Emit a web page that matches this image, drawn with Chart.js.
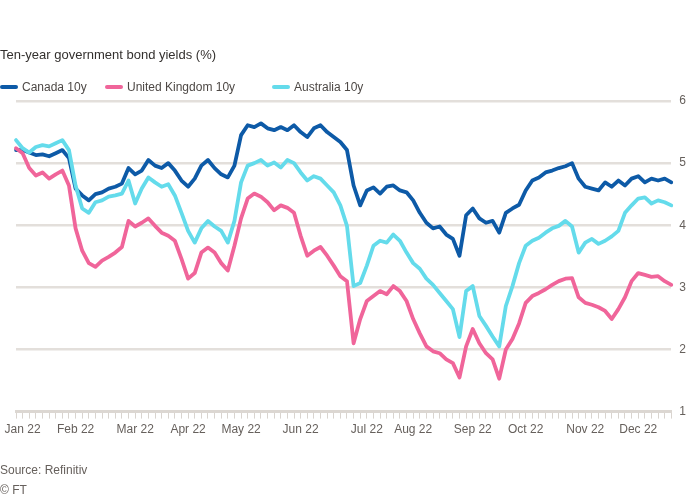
<!DOCTYPE html>
<html>
<head>
<meta charset="utf-8">
<script src="https://cdn.jsdelivr.net/npm/chart.js@4.4.1/dist/chart.umd.min.js"></script>
<style>
  html, body { margin: 0; padding: 0; background: #ffffff; }
  #wrap { position: relative; width: 700px; height: 500px; font-family: "Liberation Sans", Arial, sans-serif; color: #66605c; }
  #title { position: absolute; left: 0; top: 47px; font-size: 13px; color: #33302e; white-space: nowrap; }
  #legend { position: absolute; left: 0; top: 80px; font-size: 12px; white-space: nowrap; color: #4d4845; }
  .item { position: absolute; top: 0; display: flex; align-items: center; height: 14px; }
  .sw { width: 18px; height: 4px; border-radius: 2px; margin-right: 4px; }
  #source { position: absolute; left: 0; top: 460px; font-size: 12px; line-height: 20px; }
  #c { position: absolute; left: 0; top: 0; }
</style>
</head>
<body>
<div id="wrap">
  <canvas id="c" width="700" height="500"></canvas>
  <div id="title">Ten-year government bond yields (%)</div>
  <div id="legend"></div>
  <div id="source">Source: Refinitiv<br>© FT</div>
</div>
<script>
const seriesNames = ["Canada 10y", "United Kingdom 10y", "Australia 10y"];
const seriesColors = ["#0d5aa7", "#f0659a", "#64dbeb"];
const monthLabels = ["Jan 22", "Feb 22", "Mar 22", "Apr 22", "May 22", "Jun 22", "Jul 22", "Aug 22", "Sep 22", "Oct 22", "Nov 22", "Dec 22"];
const monthIndex = [1, 9, 18, 26, 34, 43, 53, 60, 69, 77, 86, 94];
const yTicks = [1, 2, 3, 4, 5, 6];

const blueSeries = [5.21,5.21,5.17,5.13,5.14,5.11,5.16,5.21,5.08,4.59,
 4.48,4.40,4.50,4.53,4.59,4.62,4.67,4.92,4.82,4.88,
 5.05,4.96,4.92,5.00,4.88,4.72,4.62,4.75,4.96,5.05,
 4.92,4.82,4.77,4.96,5.45,5.61,5.58,5.64,5.56,5.53,
 5.58,5.53,5.61,5.50,5.42,5.56,5.61,5.50,5.42,5.34,
 5.21,4.64,4.32,4.56,4.61,4.51,4.62,4.64,4.56,4.53,
 4.40,4.20,4.04,3.95,3.98,3.85,3.78,3.51,4.16,4.27,
 4.11,4.04,4.07,3.88,4.20,4.27,4.33,4.56,4.72,4.77,
 4.85,4.88,4.92,4.95,5.00,4.75,4.62,4.59,4.56,4.69,
 4.62,4.72,4.64,4.75,4.79,4.69,4.75,4.72,4.75,4.69];

const pinkSeries = [5.24,5.16,4.92,4.80,4.85,4.75,4.82,4.88,4.64,3.95,
 3.59,3.39,3.33,3.43,3.49,3.56,3.65,4.07,3.98,4.04,
 4.11,3.99,3.88,3.83,3.75,3.46,3.14,3.23,3.56,3.64,
 3.56,3.39,3.27,3.67,4.11,4.43,4.51,4.46,4.37,4.24,
 4.32,4.28,4.20,3.83,3.51,3.59,3.65,3.51,3.35,3.18,
 3.10,2.10,2.49,2.78,2.86,2.94,2.89,3.02,2.94,2.78,
 2.49,2.26,2.05,1.97,1.94,1.84,1.78,1.55,2.05,2.33,
 2.10,1.94,1.84,1.53,2.00,2.17,2.42,2.75,2.86,2.91,
 2.97,3.04,3.10,3.14,3.15,2.84,2.75,2.72,2.68,2.62,
 2.49,2.65,2.84,3.10,3.23,3.20,3.17,3.18,3.10,3.04];

const cyanSeries = [5.37,5.24,5.17,5.26,5.29,5.27,5.32,5.37,5.21,4.64,
 4.27,4.20,4.37,4.40,4.46,4.48,4.51,4.72,4.35,4.59,
 4.77,4.69,4.62,4.66,4.48,4.20,3.91,3.72,3.95,4.07,
 3.98,3.91,3.72,4.07,4.69,4.96,5.00,5.05,4.96,5.01,
 4.93,5.05,5.00,4.85,4.72,4.79,4.75,4.64,4.53,4.32,
 3.99,3.02,3.07,3.35,3.67,3.75,3.72,3.85,3.75,3.56,
 3.39,3.30,3.14,3.04,2.91,2.78,2.65,2.20,2.94,3.02,
 2.54,2.38,2.21,2.05,2.70,3.02,3.39,3.67,3.75,3.80,
 3.88,3.95,3.99,4.07,3.98,3.56,3.72,3.78,3.70,3.75,
 3.82,3.91,4.20,4.32,4.43,4.45,4.35,4.40,4.37,4.32];

// legend
const legendPos = [0, 105, 272];
const legend = document.getElementById('legend');
seriesNames.forEach((n, i) => {
  const d = document.createElement('div');
  d.className = 'item';
  d.style.left = legendPos[i] + 'px';
  d.innerHTML = '<span class="sw" style="background:' + seriesColors[i] + '"></span><span>' + n + '</span>';
  legend.appendChild(d);
});

const labels = blueSeries.map((_, i) => i);
const tickText = {};
monthIndex.forEach((idx, k) => { tickText[idx] = monthLabels[k]; });

const mk = (label, data, color) => ({
  label, data, borderColor: color, backgroundColor: color,
  borderWidth: 3.8, pointRadius: 0, tension: 0, borderJoinStyle: 'round', borderCapStyle: 'round'
});

new Chart(document.getElementById('c'), {
  type: 'line',
  data: {
    labels,
    datasets: [
      mk(seriesNames[2], cyanSeries, seriesColors[2]),
      mk(seriesNames[1], pinkSeries, seriesColors[1]),
      mk(seriesNames[0], blueSeries, seriesColors[0])
    ]
  },
  options: {
    responsive: false,
    animation: false,
    layout: { padding: { left: 16, right: 6, top: 101, bottom: 59 } },
    plugins: { legend: { display: false }, tooltip: { enabled: false } },
    scales: {
      x: {
        type: 'category',
        offset: false,
        grid: { display: true, drawOnChartArea: false, drawTicks: true, tickLength: 7, tickColor: '#d9d4cf', lineWidth: 1 },
        border: { display: true, color: '#dcd7d2', width: 3 },
        ticks: {
          autoSkip: false, maxRotation: 0, padding: 4,
          color: '#66605c', font: { family: 'Liberation Sans, Arial, sans-serif', size: 12 },
          callback: (v, i) => tickText[i] || ''
        }
      },
      y: {
        position: 'right',
        min: 1, max: 6,
        afterBuildTicks: (s) => { s.ticks = yTicks.map(v => ({ value: v })); },
        grid: { color: '#e3dfdb', lineWidth: 2.5, drawTicks: false },
        border: { display: false },
        ticks: {
          padding: 8, color: '#66605c', font: { family: 'Liberation Sans, Arial, sans-serif', size: 12 }
        }
      }
    }
  }
});
</script>
</body>
</html>
